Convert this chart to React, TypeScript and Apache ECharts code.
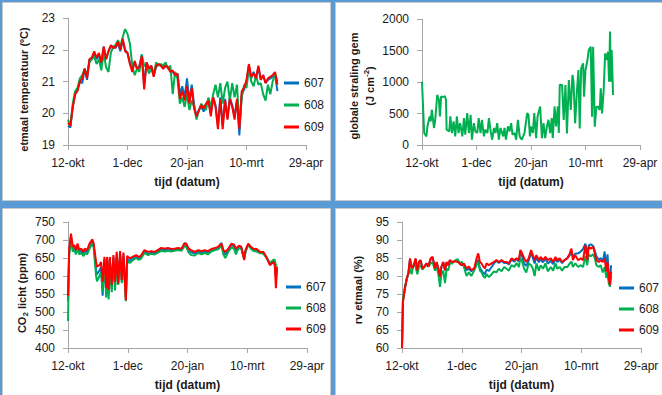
import React, { useEffect, useRef } from "react";
import * as echarts from "echarts";

// Date axis: days since 12 October, one label every 50 days
const xLabels = ["12-okt", "1-dec", "20-jan", "10-mrt", "29-apr"];
const blockNames = ["607", "608", "609"];
const blockColors = ["#0070C0", "#00B050", "#FF0000"];

// Daily mean temperature (°C), sampled every 2 days from 12-okt
const temp607 = [
  19.6, 19.55, 20.2, 20.6, 20.75, 21.0, 20.95, 21.4, 21.05, 21.7,
  21.7, 21.9, 21.7, 21.85, 21.55, 22.1, 21.7, 21.95, 22.1, 22.1,
  22.05, 22.2, 21.95, 22.3, 22.0, 21.9, 21.6, 21.4, 21.6, 21.4,
  21.5, 21.85, 20.9, 21.6, 21.4, 21.5, 21.2, 21.45, 21.55, 21.5,
  21.45, 21.5, 21.45, 21.35, 21.3, 21.2, 21.25, 20.6, 20.85, 20.5,
  21.1, 20.4, 20.9, 20.25, 19.9, 20.1, 20.2, 20.05, 20.3, 20.4,
  20.0, 20.5, 20.25, 19.6, 20.5, 19.6, 20.45, 19.85, 20.5, 20.25,
  19.9, 20.4, 19.3, 20.6, 20.75, 21.0, 21.5, 21.1, 21.3, 21.1,
  21.45, 21.05, 21.2, 20.95, 21.05, 21.1, 21.15, 21.2, 20.7,
];
const temp608 = [
  19.8, 19.6, 20.3, 20.7, 20.8, 21.1, 21.2, 21.4, 21.2, 21.6,
  21.7, 21.8, 21.55, 21.7, 21.35, 21.9, 21.45, 21.3, 21.9, 22.1,
  22.15, 22.3, 22.1, 22.4, 22.65, 22.5, 22.2, 21.5, 21.2, 21.4,
  21.3, 21.85, 21.5, 21.5, 21.25, 21.4, 21.2, 21.6, 21.5, 21.55,
  21.5, 21.6, 21.4, 21.5, 20.6, 21.3, 21.1, 20.3, 20.5, 20.2,
  20.6, 20.1, 20.4, 20.2, 19.8, 20.1, 20.3, 20.2, 20.1, 20.5,
  20.2, 20.6, 20.9, 20.5, 20.95, 20.3, 20.8, 21.0, 20.4, 20.95,
  20.5, 20.9, 19.6, 20.5, 20.9, 20.8, 21.4, 21.0, 20.85, 21.2,
  20.9, 20.95, 20.6, 20.4, 20.9, 20.6, 21.0, 21.25, 21.0,
];
const temp609 = [
  19.7, 19.6, 20.2, 20.6, 20.7, 21.0, 21.1, 21.4, 21.1, 21.7,
  21.75, 21.95, 21.75, 21.9, 21.6, 22.1, 21.7, 21.95, 22.15, 22.05,
  22.1, 22.25, 22.0, 22.35, 21.95, 21.9, 21.55, 21.3, 21.65, 21.4,
  21.45, 21.8, 20.75, 21.6, 21.4, 21.5, 21.15, 21.5, 21.55, 21.5,
  21.4, 21.5, 21.45, 21.3, 21.35, 21.2, 21.25, 20.45, 20.7, 20.4,
  20.85, 20.3, 20.8, 20.15, 19.9, 20.1, 20.25, 20.15, 20.3, 20.4,
  19.9, 20.5, 20.2, 19.5, 20.45, 19.5, 20.4, 19.8, 20.45, 20.2,
  19.8, 20.45, 19.5, 20.7, 20.8, 21.05, 21.55, 21.15, 21.25, 21.1,
  21.5, 21.05, 21.2, 20.95, 21.1, 21.15, 21.2, 21.3, 20.9,
];

// Global radiation (J cm-2): day since 12-okt and value
const radDays = [
  0, 2, 4, 5, 7, 8, 9, 11, 12, 14, 15.5, 16.5, 17.5, 19, 21, 22, 22.6, 25, 26, 27.5,
  29, 30.5, 32, 33.5, 35, 37, 38.5, 39.7, 41.5, 43, 44.6, 45.8, 47.6, 49, 50.7, 52, 53.7, 55, 56.8, 58,
  60, 61.4, 63, 64.4, 66, 67.5, 69, 70.5, 72, 73, 74.5, 75.7, 77, 78.8, 80.3, 81.8, 83, 85, 86.4, 88,
  89.6, 91.6, 94, 96.5, 97.7, 99, 100, 101.7, 103, 104.7, 106, 108.4, 110, 111.5, 113, 114.6, 116, 117.6, 119, 120,
  121.6, 123, 124.6, 125.5, 126.4, 128.5, 130, 131.6, 133, 134.7, 136.5, 138, 139, 140.5, 142, 143.5, 144.7, 146, 147.8, 148.7,
  150, 151.8, 153, 154.8, 156, 157, 158.5, 160, 161.5, 163, 164, 165.2, 166.7, 168, 169, 170.7, 171.6, 172.5, 173.4, 174, 175.3,
];
const radValues = [
  1005, 190, 137, 295, 454, 375, 560, 270, 375, 797, 718, 454, 770, 760, 775, 718, 243, 216, 454, 190,
  375, 137, 454, 190, 348, 137, 427, 164, 507, 190, 480, 84, 348, 216, 190, 427, 190, 400, 137, 243,
  190, 427, 216, 84, 270, 190, 348, 84, 270, 216, 137, 270, 84, 295, 216, 348, 164, 190, 84, 400,
  137, 84, 190, 507, 480, 137, 295, 190, 507, 110, 454, 612, 110, 348, 110, 295, 400, 190, 427, 110,
  612, 295, 612, 190, 955, 952, 397, 952, 185, 1031, 555, 1111, 1005, 344, 820, 1190, 264, 1217, 1296, 767,
  1190, 1349, 1508, 1560, 450, 1560, 290, 608, 608, 555, 900, 502, 873, 1455, 1349, 1481, 1005, 1800, 1005, 1508, 793,
];

// CO2 during light period (ppm)
const co2Days = [
  0, 1, 2.5, 4, 5.3, 6.7, 8, 9.5, 11, 13, 14, 16, 18, 20.4, 21.5, 23.5, 24.3, 26.3, 27.7, 29,
  30.5, 32, 32.7, 34, 35, 36.6, 38, 39.4, 40.8, 42, 43.6, 45, 46.4, 48.4, 49.5, 51.5, 54, 57, 59, 61,
  64, 67, 69.6, 72.5, 75, 78, 81, 83.6, 86.4, 89, 92, 95, 97.6, 99, 101, 103, 106, 109, 111.6, 114.4,
  117, 120, 123, 125.6, 128.4, 130, 131.7, 134, 136.8, 139, 140.5, 142, 143.2, 145, 147.4, 148.5, 150.8, 153, 155, 157.8,
  160.6, 163.4, 166, 169, 170.4, 171.7, 173, 174, 175,
];
const co2607 = [
  530, 668, 710, 674, 678, 666, 682, 666, 670, 661, 670, 666, 684, 696, 686, 615, 605, 615, 625, 545,
  646, 553, 646, 550, 646, 565, 652, 572, 660, 578, 662, 585, 658, 540, 648, 642, 648, 654, 649, 652,
  668, 662, 665, 664, 668, 674, 672, 674, 672, 673, 675, 673, 692, 686, 670, 666, 662, 668, 665, 668,
  665, 672, 675, 678, 692, 668, 660, 670, 686, 682, 670, 677, 684, 680, 650, 668, 688, 678, 673, 671,
  665, 665, 652, 632, 637, 640, 635, 600, 620,
];
const co2608 = [
  475, 660, 700, 668, 672, 660, 675, 660, 664, 655, 664, 660, 676, 690, 680, 600, 585, 600, 610, 556,
  640, 540, 640, 535, 640, 555, 645, 560, 652, 575, 655, 580, 650, 530, 642, 636, 643, 650, 645, 648,
  664, 658, 662, 660, 664, 670, 668, 670, 668, 670, 672, 670, 684, 680, 665, 658, 657, 664, 660, 664,
  660, 668, 672, 674, 684, 660, 650, 666, 680, 675, 660, 672, 678, 676, 648, 664, 688, 676, 670, 668,
  664, 662, 652, 636, 640, 645, 645, 630, 628,
];
const co2609 = [
  545, 676, 718, 681, 686, 672, 690, 672, 676, 667, 676, 672, 690, 702, 690, 639, 626, 630, 639, 584,
  653, 566, 653, 561, 653, 575, 658, 584, 667, 579, 669, 589, 665, 533, 656, 649, 653, 658, 653, 656,
  672, 667, 669, 667, 672, 678, 676, 678, 675, 676, 678, 676, 690, 690, 676, 672, 667, 672, 669, 672,
  669, 675, 678, 681, 690, 672, 667, 675, 690, 687, 676, 681, 684, 681, 644, 672, 690, 681, 676, 675,
  667, 667, 653, 630, 635, 639, 630, 566, 626,
];

// Daily mean relative humidity (%)
const rvDays = [
  0, 0.8, 2.5, 4, 5.3, 6.7, 8, 10, 11.4, 12.8, 14.2, 15.6, 17, 18.7, 20.6, 22, 24, 25.6, 27.6, 29,
  30.4, 31.8, 33, 34.5, 36, 37.3, 38.7, 40, 42, 44.3, 46.5, 48.5, 50, 51.8, 54, 56, 58, 60.4, 62.4, 63.8,
  65.2, 66.6, 68, 69.4, 70.8, 72.7, 75, 77, 79, 81, 83.3, 85.5, 87.5, 89.4, 91.6, 94, 95.8, 97.8, 99, 100.5,
  102.2, 104, 106, 108, 109.5, 111, 112.5, 114.5, 116, 118, 120, 122, 124.5, 126.5, 128.4, 130, 132, 134, 136, 138.4,
  140.4, 141.8, 143, 145, 147.4, 149.6, 151.5, 153.5, 155, 156.3, 158, 160, 161.3, 162.7, 164.6, 166.3, 168, 169.6, 171, 172,
  173, 174, 175,
];
const rv607 = [
  60, 73, 76.8, 79.4, 80.8, 84.7, 82.2, 83.2, 84.7, 81.8, 83.9, 84.4, 82.2, 82.6, 83.5, 82.6, 84.7, 85.2, 82.1, 83.8,
  82.1, 79.8, 82.5, 83.8, 81.6, 83.8, 83.0, 84.3, 83.7, 84.2, 84.3, 83.3, 83.0, 83.3, 81.6, 82.0, 81.3, 81.9, 83.8, 84.5,
  82.2, 81.5, 80.8, 80.5, 81.8, 81.4, 82.5, 83.5, 84.2, 83.6, 84.2, 83.6, 83.7, 83.2, 84.6, 84.0, 84.7, 84.0, 86.5, 85.5,
  83.5, 82.8, 84.2, 86.5, 85.0, 83.5, 85.2, 83.8, 84.7, 83.8, 84.8, 83.5, 84.2, 83.3, 84.7, 83.9, 84.5, 83.6, 84.4, 85.0,
  85.8, 86.4, 85.5, 86.2, 86.3, 86.8, 87.5, 89.0, 86.0, 88.5, 88.8, 88.3, 87.0, 85.5, 84.5, 85.0, 84.0, 86.8, 82.0, 86.0,
  80.5, 78.5, 83.0,
];
const rv608 = [
  60, 73.5, 77, 79, 80.5, 82, 80.5, 83.5, 82.5, 80.5, 82.5, 83, 81.8, 82.5, 83.2, 82.6, 83.5, 83.8, 81.5, 82.5,
  80.5, 77, 80.5, 81.5, 78, 82, 81.5, 83.5, 83.5, 84.3, 84.7, 83.5, 84, 82.5, 80, 81, 80, 81.5, 83, 84,
  81.5, 81, 80, 79.5, 80.5, 79.7, 80.5, 81.3, 81, 82, 81.3, 82.5, 82, 81.5, 83, 82.5, 83.6, 82.5, 85, 84,
  82, 81, 83.5, 83, 82, 80, 83.5, 81.5, 83, 82, 83.5, 81.3, 82.5, 81.5, 83.5, 82, 82.5, 81.5, 82.5, 82.5,
  83.5, 84, 82.5, 83.5, 82.5, 83, 82.5, 85.5, 83, 86, 85.5, 86, 85, 83, 82.5, 83, 81, 82.5, 79.5, 81,
  78, 77, 80,
];
const rv609 = [
  60.0, 72.9, 76.6, 79.3, 80.7, 84.9, 82.1, 83.0, 84.9, 81.6, 83.9, 84.4, 82.1, 82.6, 83.5, 82.6, 84.9, 85.3, 82.1, 83.9,
  82.1, 79.8, 82.6, 83.9, 81.6, 83.9, 83.0, 84.4, 83.9, 84.1, 83.9, 83.5, 83.0, 83.5, 82.1, 82.6, 81.6, 82.1, 84.9, 86.3,
  83.9, 83.5, 82.6, 82.1, 83.5, 83.0, 83.5, 83.9, 84.4, 83.9, 84.4, 83.9, 83.9, 83.5, 84.9, 84.4, 84.9, 84.4, 87.2, 86.3,
  84.9, 83.9, 84.9, 87.2, 85.8, 84.4, 85.8, 84.4, 85.3, 84.4, 85.3, 84.4, 84.9, 83.9, 85.3, 84.4, 84.9, 83.9, 84.4, 84.9,
  86.3, 87.6, 84.4, 85.8, 84.4, 84.9, 84.4, 88.6, 84.4, 88.1, 87.6, 88.1, 86.3, 84.4, 83.9, 84.4, 83.9, 84.9, 81.2, 83.9,
  79.3, 77.5, 81.2,
];

const FONT = "Liberation Sans";
const TEXT = "#1a1a1a";
const AXIS = "#a6a6a6";

const pairs = (days: number[], values: number[]) => values.map((v, i) => [days[i], v]);
const everyOther = (values: number[]) => values.map((_, i) => i * 2);

function xAxisFor(gridIndex: number) {
  return {
    type: "value",
    gridIndex,
    min: 0,
    max: 200,
    interval: 50,
    axisLine: { show: true, lineStyle: { color: AXIS, width: 1 } },
    axisTick: { show: true, length: 5, lineStyle: { color: AXIS } },
    splitLine: { show: false },
    axisLabel: {
      margin: 12,
      fontSize: 12,
      fontFamily: FONT,
      color: TEXT,
      showMinLabel: true,
      showMaxLabel: true,
      formatter: (v: number) => xLabels[Math.round(v / 50)] ?? "",
    },
    name: "tijd (datum)",
    nameLocation: "middle",
    nameGap: 31,
    nameTextStyle: { fontSize: 12, fontWeight: "bold", fontFamily: FONT, color: TEXT },
  };
}

function yAxisFor(
  gridIndex: number,
  min: number,
  max: number,
  interval: number,
  name: string,
  nameGap: number,
  shift: number,
  extra: Record<string, unknown> = {}
) {
  return {
    type: "value",
    gridIndex,
    min,
    max,
    interval,
    axisLine: { show: true, lineStyle: { color: AXIS, width: 1 } },
    axisTick: { show: true, length: 5, lineStyle: { color: AXIS } },
    splitLine: { show: false },
    axisLabel: {
      margin: 13,
      fontSize: 12,
      fontFamily: FONT,
      color: TEXT,
      formatter: (v: number) => String(v),
    },
    name,
    nameLocation: "middle",
    nameGap,
    nameTextStyle: {
      fontSize: 11,
      fontWeight: "bold",
      fontFamily: FONT,
      color: TEXT,
      padding: [0, shift * 2, 0, 0],
      ...extra,
    },
  };
}

function lineSeries(name: string, color: string, xAxisIndex: number, data: number[][]) {
  return {
    type: "line",
    name,
    xAxisIndex,
    yAxisIndex: xAxisIndex,
    data,
    showSymbol: false,
    symbol: "none",
    lineStyle: { color, width: 2 },
    itemStyle: { color },
  };
}

function legendAt(left: number, top: number, gap: number) {
  return {
    orient: "vertical",
    left,
    top,
    padding: 0,
    icon: "rect",
    itemWidth: 15,
    itemHeight: 3,
    itemGap: gap,
    selectedMode: false,
    data: blockNames,
    textStyle: { fontSize: 12, fontFamily: FONT, color: TEXT, lineHeight: 14 },
  };
}

export default function App() {
  const ref = useRef<HTMLDivElement>(null);

  useEffect(() => {
    if (!ref.current) return;
    const chart = echarts.init(ref.current, undefined, { renderer: "svg" });

    const tempSets = [temp607, temp608, temp609];
    const co2Sets = [co2607, co2608, co2609];
    const rvSets = [rv607, rv608, rv609];

    const panel = (x: number, y: number, w: number, h: number) => ({
      type: "rect",
      shape: { x, y, width: w, height: h },
      style: { fill: "#ffffff", stroke: "#c8c8c8", lineWidth: 1 },
      z: -10,
      silent: true,
    });

    chart.setOption({
      animation: false,
      backgroundColor: "#5B9BD5",
      textStyle: { fontFamily: FONT },
      graphic: [
        panel(2.5, 2.5, 328, 198),
        panel(335.5, 2.5, 330, 198),
        panel(2.5, 208.5, 328, 190),
        panel(335.5, 208.5, 330, 190),
      ],
      grid: [
        { left: 68, top: 18, width: 238, height: 127 },
        { left: 422, top: 19, width: 218, height: 126 },
        { left: 68, top: 222, width: 239, height: 126 },
        { left: 402, top: 222, width: 239, height: 126 },
      ],
      xAxis: [xAxisFor(0), xAxisFor(1), xAxisFor(2), xAxisFor(3)],
      yAxis: [
        yAxisFor(0, 19, 23, 1, "etmaal temperatuur (ºC)", 39, 8),
        yAxisFor(1, 0, 2000, 500, "globale straling gem\n(J cm{sup|-2})", 42, 4, {
          lineHeight: 16,
          rich: { sup: { fontSize: 8, fontWeight: "bold", fontFamily: FONT, color: TEXT, verticalAlign: "top" } },
        }),
        yAxisFor(2, 400, 750, 50, "CO{sub|2} licht (ppm)", 39, 8, {
          lineHeight: 14,
          rich: { sub: { fontSize: 8, fontWeight: "bold", fontFamily: FONT, color: TEXT, verticalAlign: "bottom" } },
        }),
        yAxisFor(3, 60, 95, 5, "rv etmaal (%)", 39, 5),
      ],
      legend: [legendAt(284, 76, 8), legendAt(286, 280, 7), legendAt(619, 281, 7)],
      series: [
        ...tempSets.map((vals, i) =>
          lineSeries(blockNames[i], blockColors[i], 0, pairs(everyOther(vals), vals))
        ),
        lineSeries("globale straling", blockColors[1], 1, pairs(radDays, radValues)),
        ...co2Sets.map((vals, i) => lineSeries(blockNames[i], blockColors[i], 2, pairs(co2Days, vals))),
        ...rvSets.map((vals, i) => lineSeries(blockNames[i], blockColors[i], 3, pairs(rvDays, vals))),
      ],
    });

    return () => chart.dispose();
  }, []);

  return (
    <div
      ref={ref}
      style={{ position: "fixed", left: 0, top: 0, width: 662, height: 395 }}
    />
  );
}
